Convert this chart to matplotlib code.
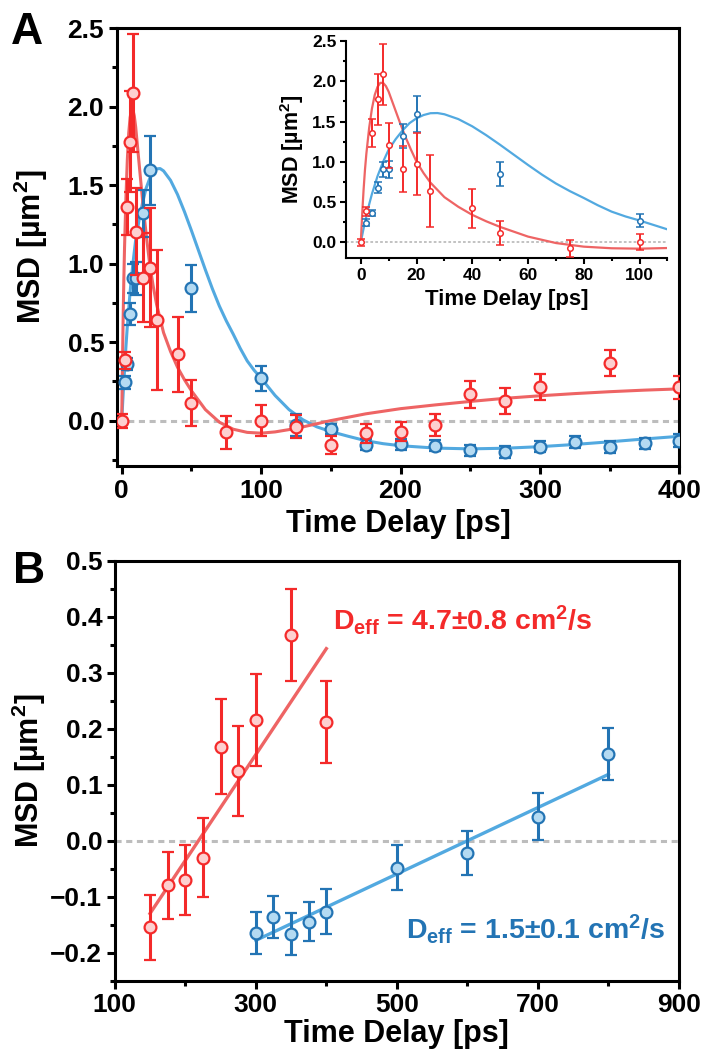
import matplotlib
matplotlib.use("Agg")
import matplotlib.pyplot as plt
from matplotlib.ticker import MultipleLocator, FixedLocator

plt.rcParams['font.family'] = ['Liberation Sans', 'DejaVu Sans']
plt.rcParams['font.weight'] = 'bold'
plt.rcParams['mathtext.fontset'] = 'custom'
plt.rcParams['mathtext.rm'] = 'Liberation Sans:bold'
plt.rcParams['mathtext.it'] = 'Liberation Sans:bold'
plt.rcParams['mathtext.bf'] = 'Liberation Sans:bold'

# ---------------- data ----------------
red_t = [0, 2, 4, 6, 8, 10, 15, 20, 25, 40, 50, 75, 100, 125, 150, 175, 200, 225,
         250, 275, 300, 350, 400]
red_v = [0.0, 0.385, 1.358, 1.776, 2.086, 1.204, 0.91, 0.973, 0.64, 0.422, 0.112,
         -0.075, 0.0, -0.038, -0.155, -0.082, -0.07, -0.03, 0.168, 0.125, 0.216,
         0.368, 0.212]
red_e = [0.045, 0.054, 0.178, 0.32, 0.377, 0.28, 0.284, 0.38, 0.445, 0.24, 0.149,
         0.103, 0.097, 0.072, 0.058, 0.06, 0.063, 0.071, 0.085, 0.08, 0.082, 0.082,
         0.074]

blue_t = [2, 4, 6, 8, 10, 15, 20, 50, 100, 125, 150, 175, 200, 225, 250, 275, 300,
          325, 350, 375, 400]
blue_v = [0.244, 0.36, 0.68, 0.906, 0.906, 1.32, 1.594, 0.844, 0.27, -0.03, -0.053,
          -0.155, -0.15, -0.161, -0.19, -0.2, -0.165, -0.136, -0.167, -0.145, -0.127]
blue_e = [0.04, 0.04, 0.07, 0.093, 0.105, 0.15, 0.22, 0.15, 0.08, 0.07, 0.03,
          0.035, 0.035, 0.035, 0.037, 0.037, 0.037, 0.037, 0.037, 0.035, 0.04]

# fitted model curves
red_fit_t = [0, 0.5, 1, 1.5, 2, 3, 4, 5, 6, 7, 8, 9, 10, 12, 14, 16, 18, 20, 22.5,
             25, 30, 35, 40, 45, 50, 60, 70, 80, 90, 100, 110, 125, 137.5, 150, 175,
             200, 225, 250, 275, 300, 325, 350, 375, 400]
red_fit_v = [0.0, 0.35, 0.65, 0.9, 1.1, 1.42, 1.66, 1.83, 1.93, 1.98, 1.98, 1.94,
             1.87, 1.68, 1.49, 1.31, 1.15, 1.0, 0.86, 0.74, 0.56, 0.44, 0.34, 0.26,
             0.19, 0.07, -0.01, -0.055, -0.075, -0.08, -0.072, -0.05, -0.025, 0.0,
             0.043, 0.076, 0.1, 0.122, 0.142, 0.158, 0.172, 0.184, 0.194, 0.202]
blue_fit_t = [0, 1, 2, 3, 4, 6, 8, 10, 12.5, 15, 17.5, 20, 22.5, 25, 27.5, 30, 35,
              40, 45, 50, 55, 60, 65, 70, 75, 80, 85, 90, 95, 100, 110, 120, 130,
              140, 150, 162.5, 175, 187.5, 200, 225, 250, 275, 300, 325, 350, 375,
              400]
blue_fit_v = [0.0, 0.17, 0.32, 0.47, 0.6, 0.82, 1.0, 1.15, 1.28, 1.39, 1.48, 1.54,
              1.58, 1.603, 1.605, 1.59, 1.53, 1.44, 1.33, 1.21, 1.085, 0.96, 0.84,
              0.73, 0.635, 0.55, 0.46, 0.38, 0.32, 0.27, 0.16, 0.07, 0.005, -0.04,
              -0.07, -0.1, -0.128, -0.147, -0.16, -0.175, -0.18, -0.176, -0.166,
              -0.152, -0.135, -0.117, -0.1]

# panel B (long-time data and linear fits)
redB_t = [150, 175, 200, 225, 250, 275, 300, 350, 400]
redB_v = [-0.155, -0.08, -0.07, -0.03, 0.168, 0.125, 0.215, 0.368, 0.212]
redB_e = [0.058, 0.06, 0.063, 0.071, 0.085, 0.08, 0.082, 0.082, 0.074]
blueB_t = [300, 325, 350, 375, 400, 500, 600, 700, 800]
blueB_v = [-0.165, -0.136, -0.167, -0.145, -0.127, -0.048, -0.022, 0.043, 0.155]
blueB_e = [0.037, 0.037, 0.037, 0.035, 0.04, 0.04, 0.04, 0.042, 0.047]
redB_fit_t = [150, 400]
redB_fit_v = [-0.13, 0.343]
blueB_fit_t = [300, 800]
blueB_fit_v = [-0.178, 0.1185]
xticksB = [100, 300, 500, 700, 900]

red_text = "D$_{eff}$ = 4.7\u00b10.8 cm$^{2}$/s"
blue_text = "D$_{eff}$ = 1.5\u00b10.1 cm$^{2}$/s"

# ---------------- styles ----------------
RED_E = '#F42A2A'
RED_F = '#FDD0D0'
RED_L = '#EE6464'
BLU_E = '#2374B4'
BLU_F = '#B4DAF2'
BLU_L = '#52A9E0'
GRAY = '#BDBDBD'

fig = plt.figure(figsize=(7.04, 10.57), dpi=100)
axA = fig.add_axes([0.1658, 0.559, 0.965 - 0.1658, 0.9735 - 0.559])
axB = fig.add_axes([0.163, 0.0722, 0.9645 - 0.163, 0.4695 - 0.0722])
axI = fig.add_axes([0.4915, 0.7556, 0.948 - 0.4915, 0.9612 - 0.7556])


def style_axes(ax, lw=2.2, fs=19, majlen=6, minlen=3.5):
    for s in ax.spines.values():
        s.set_linewidth(lw)
    ax.tick_params(which='both', direction='out', width=lw, top=False, right=False,
                   labelsize=fs, pad=3)
    ax.tick_params(which='major', length=majlen)
    ax.tick_params(which='minor', length=minlen)
    for lab in ax.get_xticklabels() + ax.get_yticklabels():
        lab.set_fontweight('bold')


def draw_pts(ax, t, v, e, ec, fc, ms=8.5, mew=1.6, elw=2.2, cs=4.5, z=3):
    ax.errorbar(t, v, yerr=e, fmt='o', color=ec, mfc=fc, mec=ec, ms=ms, mew=mew,
                elinewidth=elw, capsize=cs, capthick=elw, zorder=z)


# ---------------- panel A ----------------
axA.axhline(0, color=GRAY, lw=2.2, ls=(0, (2, 1.5)), zorder=1)
axA.plot(blue_fit_t, blue_fit_v, color=BLU_L, lw=2.2, zorder=2)
axA.plot(red_fit_t, red_fit_v, color=RED_L, lw=2.2, zorder=2)
draw_pts(axA, blue_t, blue_v, blue_e, BLU_E, BLU_F, z=3)
draw_pts(axA, red_t, red_v, red_e, RED_E, RED_F, z=4)
axA.set_xlim(-3.6, 400)
axA.set_ylim(-0.29, 2.5)
axA.xaxis.set_major_locator(MultipleLocator(100))
axA.xaxis.set_minor_locator(MultipleLocator(50))
axA.yaxis.set_major_locator(MultipleLocator(0.5))
axA.yaxis.set_minor_locator(MultipleLocator(0.25))
style_axes(axA)
axA.set_xlabel('Time Delay [ps]', fontsize=22, fontweight='bold')
axA.set_ylabel('MSD [\u00b5m$^{2}$]', fontsize=22, fontweight='bold')
axA.yaxis.set_label_coords(-0.119, 0.5)
axA.xaxis.set_label_coords(0.5, -0.098)

# ---------------- inset ----------------
axI.axhline(0, color=GRAY, lw=1.3, ls=(0, (1.5, 1.2)), zorder=1)
axI.plot(blue_fit_t, blue_fit_v, color=BLU_L, lw=1.6, zorder=2)
axI.plot(red_fit_t, red_fit_v, color=RED_L, lw=1.6, zorder=2)
draw_pts(axI, blue_t, blue_v, blue_e, BLU_E, 'white', ms=4, mew=1.1, elw=1.4, cs=2.8, z=3)
draw_pts(axI, red_t, red_v, red_e, RED_E, 'white', ms=4, mew=1.1, elw=1.4, cs=2.8, z=4)
axI.set_xlim(-5.3, 110)
axI.set_ylim(-0.2, 2.5)
axI.xaxis.set_major_locator(MultipleLocator(20))
axI.xaxis.set_minor_locator(MultipleLocator(10))
axI.yaxis.set_major_locator(MultipleLocator(0.5))
axI.yaxis.set_minor_locator(MultipleLocator(0.25))
axI.spines['top'].set_visible(False)
axI.spines['right'].set_visible(False)
axI.patch.set_alpha(0)
style_axes(axI, lw=1.5, fs=12.5, majlen=4, minlen=2.5)
axI.set_xlabel('Time Delay [ps]', fontsize=16, fontweight='bold', labelpad=4)
axI.set_ylabel('MSD [\u00b5m$^{2}$]', fontsize=15.5, fontweight='bold', labelpad=4)

# ---------------- panel B ----------------
axB.axhline(0, color=GRAY, lw=2.2, ls=(0, (2, 1.5)), zorder=1)
axB.plot(redB_fit_t, redB_fit_v, color=RED_L, lw=2.4, zorder=2)
axB.plot(blueB_fit_t, blueB_fit_v, color=BLU_L, lw=2.4, zorder=2)
draw_pts(axB, blueB_t, blueB_v, blueB_e, BLU_E, BLU_F, z=3)
draw_pts(axB, redB_t, redB_v, redB_e, RED_E, RED_F, z=4)
axB.set_xlim(100, 900)
axB.set_ylim(-0.25, 0.5)
axB.xaxis.set_major_locator(FixedLocator(xticksB))
axB.xaxis.set_minor_locator(MultipleLocator(100))
axB.yaxis.set_major_locator(MultipleLocator(0.1))
axB.yaxis.set_minor_locator(MultipleLocator(0.05))
style_axes(axB)
axB.yaxis.set_major_formatter(matplotlib.ticker.FuncFormatter(
    lambda v, p: ('\u2212' if v < -1e-9 else '') + f'{abs(v):.1f}'))
axB.set_xlabel('Time Delay [ps]', fontsize=22, fontweight='bold')
axB.set_ylabel('MSD [\u00b5m$^{2}$]', fontsize=22, fontweight='bold')
axB.yaxis.set_label_coords(-0.119, 0.5)
axB.xaxis.set_label_coords(0.5, -0.092)
axB.text(409, 0.376, red_text, color=RED_E, fontsize=20.5, fontweight='bold',
         ha='left', va='baseline')
axB.text(880, -0.175, blue_text, color=BLU_E, fontsize=20.5, fontweight='bold',
         ha='right', va='baseline')

# panel letters
fig.text(0.016, 0.958, 'A', fontsize=32, fontweight='bold', ha='left', va='baseline')
fig.text(0.019, 0.448, 'B', fontsize=32, fontweight='bold', ha='left', va='baseline')

fig.savefig('out.png', dpi=100)
